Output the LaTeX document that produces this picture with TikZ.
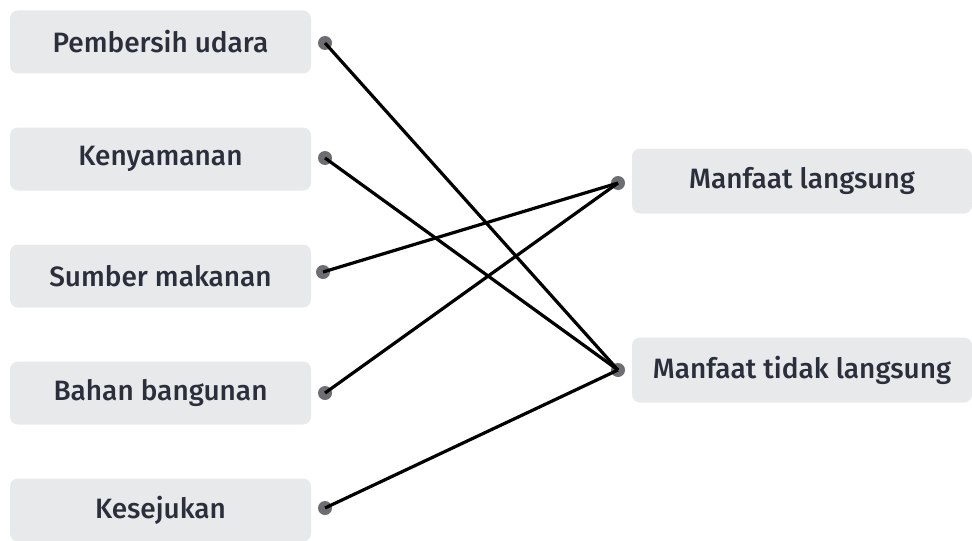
\documentclass[tikz,border=0pt]{standalone}
\usepackage{fontspec}
\setmainfont{Fira Sans}[UprightFont={* Medium}]
\definecolor{boxgray}{HTML}{E8E9EB}
\definecolor{dotgray}{HTML}{6D6E71}
\definecolor{txt}{HTML}{2B2F3B}
\tikzset{
  item/.style={fill=boxgray,rounded corners=4pt,minimum width=150.5pt,minimum height=31.5pt,
    text=txt,font=\fontsize{14}{17}\selectfont,inner sep=0pt},
  target/.style={item,minimum width=170pt,minimum height=32.5pt},
  pin/.style={circle,fill=dotgray,minimum size=7pt,inner sep=0pt},
  link/.style={line width=1.6pt,black}
}
\begin{document}
\begin{tikzpicture}[x=0.5pt,y=-0.5pt]
  \useasboundingbox (0,0) rectangle (972,540);
  % left column
  \node[item] (udara) at (160.5,42) {Pembersih udara};
  \node[item] (nyaman) at (160.5,159) {Kenyamanan};
  \node[item] (makan) at (160.5,276) {Sumber makanan};
  \node[item] (bahan) at (160.5,393) {Bahan bangunan};
  \node[item] (sejuk) at (160.5,510) {Kesejukan};
  % right column
  \node[target] (langsung) at (802,181) {Manfaat langsung};
  \node[target] (tidak) at (802,370) {Manfaat tidak langsung};
  % dots
  \node[pin] (pa) at (325,43) {};
  \node[pin] (pb) at (325,158) {};
  \node[pin] (pc) at (323,272) {};
  \node[pin] (pd) at (325,393) {};
  \node[pin] (pe) at (325,508) {};
  \node[pin] (qa) at (618,183) {};
  \node[pin] (qb) at (618,370) {};
  % connections
  \draw[link] (pa.center) -- (qb.center);
  \draw[link] (pb.center) -- (qb.center);
  \draw[link] (pc.center) -- (qa.center);
  \draw[link] (pd.center) -- (qa.center);
  \draw[link] (pe.center) -- (qb.center);
\end{tikzpicture}
\end{document}
